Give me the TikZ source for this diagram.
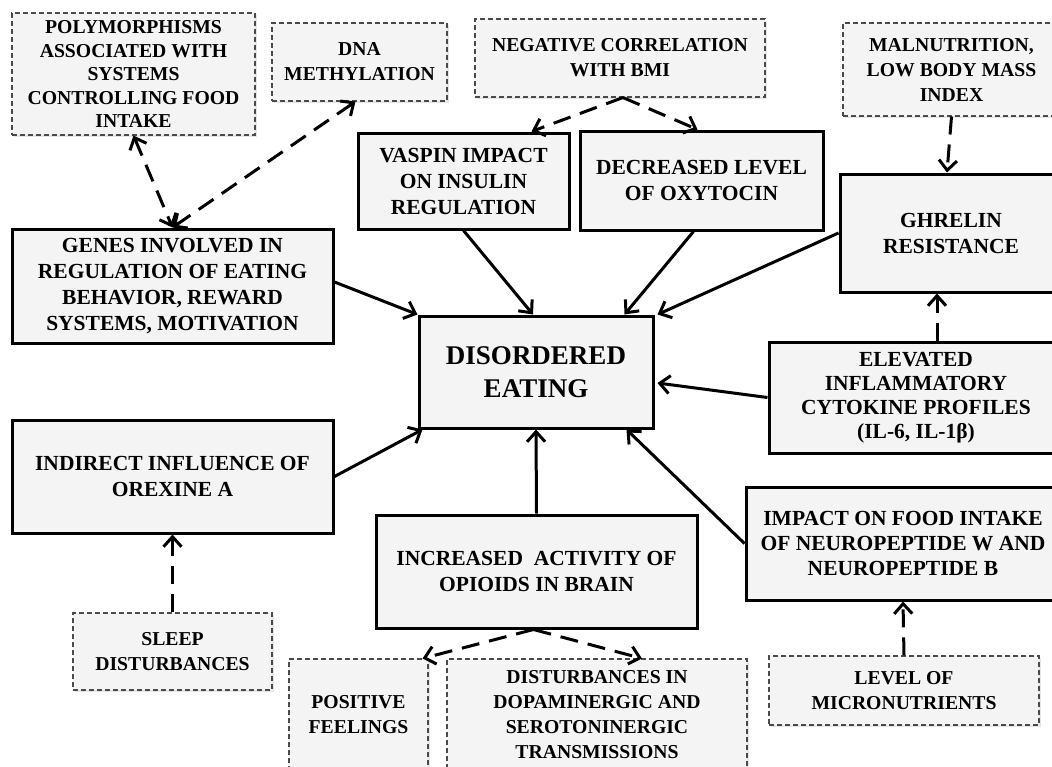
\documentclass[tikz,border=0pt]{standalone}
\usepackage{fontspec}
\setmainfont{Liberation Serif}
\usetikzlibrary{arrows.meta, shadows, calc}
\definecolor{boxfill}{HTML}{F4F4F4}
\definecolor{cueline}{HTML}{4A4A4A}

\begin{document}
\begin{tikzpicture}[
		x=1pt, y=-1pt,
		font=\bfseries\fontsize{19.7}{25}\selectfont,
		% Style for the solid factor boxes
		factor/.style={
			draw=black, line width=3pt, fill=boxfill,
			align=center, inner sep=0pt,
			font=\bfseries\fontsize{21.5}{26}\selectfont,
			drop shadow={shadow xshift=1.5pt, shadow yshift=-1.5pt, opacity=0.25}
		},
		% Style for the dashed background boxes
		cue/.style={
			draw=cueline, line width=1.1pt, dash pattern=on 5pt off 3pt, fill=boxfill,
			align=center, inner sep=0pt,
			drop shadow={shadow xshift=1.5pt, shadow yshift=-1.5pt, opacity=0.2}
		},
		% Connector styles
		link/.style={-{Straight Barb[length=10pt, width=18pt]}, line width=3pt},
		dlink/.style={link, dash pattern=on 18pt off 10pt},
		dlink2/.style={{Straight Barb[length=10pt, width=18pt]}-{Straight Barb[length=10pt, width=18pt]}, line width=3pt, dash pattern=on 18pt off 10pt}
		]
		\useasboundingbox (0,0) rectangle (1052,766);
		
		% ==============================================================================
		% 1. CENTRAL BOX
		% ==============================================================================
		\node[factor, minimum width=234pt, minimum height=112pt,
			font=\bfseries\fontsize{27}{33}\selectfont] (dis) at (536,372) {DISORDERED\\EATING};
		
		% ==============================================================================
		% 2. SOLID FACTORS
		% ==============================================================================
		\node[factor, minimum width=321pt, minimum height=114pt] (genes) at (172.5,286)
			{GENES INVOLVED IN\\REGULATION OF EATING\\BEHAVIOR, REWARD\\SYSTEMS, MOTIVATION};
		\node[factor, minimum width=211pt, minimum height=96pt] (vaspin) at (463.5,181)
			{VASPIN IMPACT\\ON INSULIN\\REGULATION};
		\node[factor, minimum width=243pt, minimum height=99pt] (oxytocin) at (701.5,180.5)
			{DECREASED LEVEL\\OF OXYTOCIN};
		\node[factor, minimum width=222pt, minimum height=118pt] (ghrelin) at (951,233)
			{GHRELIN\\RESISTANCE};
		\node[factor, minimum width=294pt, minimum height=111pt,
			font=\bfseries\fontsize{21.5}{24}\selectfont] (elevated) at (916,397.5)
			{ELEVATED\\INFLAMMATORY\\CYTOKINE PROFILES\\(IL-6, IL-1β)};
		\node[factor, minimum width=321pt, minimum height=113pt] (orexine) at (172.5,476.5)
			{INDIRECT INFLUENCE OF\\OREXINE A};
		\node[factor, minimum width=321pt, minimum height=113pt] (opioids) at (536.5,571.5)
			{INCREASED~ ACTIVITY OF\\OPIOIDS IN BRAIN};
		\node[factor, minimum width=314pt, minimum height=113pt,
			font=\bfseries\fontsize{21.5}{25}\selectfont] (impact) at (903,543.5)
			{IMPACT ON FOOD INTAKE\\OF NEUROPEPTIDE W AND\\NEUROPEPTIDE B};
		
		% ==============================================================================
		% 3. DASHED CUES
		% ==============================================================================
		\node[cue, minimum width=243pt, minimum height=122pt,
			font=\bfseries\fontsize{19.7}{23.5}\selectfont] (poly) at (133.5,74)
			{POLYMORPHISMS\\ASSOCIATED WITH\\SYSTEMS\\CONTROLLING FOOD\\INTAKE};
		\node[cue, minimum width=175pt, minimum height=78pt] (dna) at (359.5,62)
			{DNA\\METHYLATION};
		\node[cue, minimum width=290pt, minimum height=78pt] (bmi) at (620,58)
			{NEGATIVE CORRELATION\\WITH BMI};
		\node[cue, minimum width=217pt, minimum height=93pt] (malnutrition) at (951.5,69.5)
			{MALNUTRITION,\\LOW BODY MASS\\INDEX};
		\node[cue, minimum width=199pt, minimum height=77pt] (sleep) at (172.5,651.5)
			{SLEEP\\DISTURBANCES};
		\node[cue, minimum width=139pt, minimum height=111pt] (feelings) at (358.5,714.5)
			{POSITIVE\\FEELINGS};
		\node[cue, minimum width=300pt, minimum height=111pt] (transmission) at (597,714.5)
			{DISTURBANCES IN\\DOPAMINERGIC AND\\SEROTONINERGIC\\TRANSMISSIONS};
		\node[cue, minimum width=270pt, minimum height=69pt] (micro) at (904,690.5)
			{LEVEL OF\\MICRONUTRIENTS};
		
		% ==============================================================================
		% 4. ARROWS INTO THE CENTRAL BOX
		% ==============================================================================
		\draw[link] ([yshift=4pt]genes.east) -- (dis.north west);
		\draw[link] (vaspin.south) -- ([xshift=-3pt]dis.north);
		\draw[link] ([xshift=-8pt]oxytocin.south) -- ([xshift=-30pt]dis.north east);
		\draw[link] (ghrelin.west) -- ([xshift=3pt]dis.north east);
		\draw[link] (elevated.west) -- ([xshift=3pt, yshift=-11pt]dis.east);
		\draw[link] (orexine.east) -- ([xshift=5pt]dis.south west);
		\draw[link] (opioids.north) -- (dis.south);
		\draw[link] (impact.west) -- ([xshift=-28pt]dis.south east);
		
		% ==============================================================================
		% 5. DASHED CONNECTORS
		% ==============================================================================
		\draw[dlink2] (poly.south) -- (genes.north);
		\draw[dlink2] (genes.north) -- ([xshift=-4pt]dna.south);
		\draw[dlink] ([xshift=3pt]bmi.south) -- ([xshift=68pt]vaspin.north);
		\draw[dlink] ([xshift=3pt]bmi.south) -- ([xshift=-4pt]oxytocin.north);
		\draw[dlink] (malnutrition.south) -- ([xshift=-4pt]ghrelin.north);
		\draw[dlink] ([xshift=21pt]elevated.north) -- ([xshift=-14pt]ghrelin.south);
		\draw[dlink] (sleep.north) -- (orexine.south);
		\draw[dlink] ([xshift=-3pt]opioids.south) -- ([xshift=-6pt]feelings.north east);
		\draw[dlink] ([xshift=-3pt]opioids.south) -- ([xshift=45pt]transmission.north);
		\draw[dlink] (micro.north) -- (impact.south);
	\end{tikzpicture}
\end{document}
